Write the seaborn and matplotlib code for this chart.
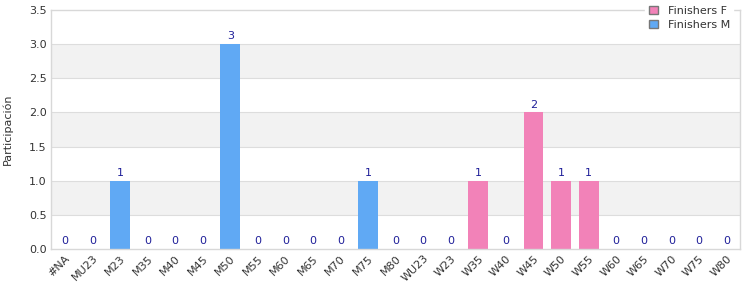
import matplotlib
matplotlib.use("Agg")
import matplotlib.pyplot as plt
import seaborn as sns
import pandas as pd
from matplotlib.patches import Patch

categories = ["#NA", "MU23", "M23", "M35", "M40", "M45", "M50", "M55", "M60", "M65",
              "M70", "M75", "M80", "WU23", "W23", "W35", "W40", "W45", "W50", "W55",
              "W60", "W65", "W70", "W75", "W80"]
finishers_f = [0, 0, 0, 0, 0, 0, 0, 0, 0, 0, 0, 0, 0, 0, 0, 1, 0, 2, 1, 1, 0, 0, 0, 0, 0]
finishers_m = [0, 0, 1, 0, 0, 0, 3, 0, 0, 0, 0, 1, 0, 0, 0, 0, 0, 0, 0, 0, 0, 0, 0, 0, 0]
y_ticks = [0.0, 0.5, 1.0, 1.5, 2.0, 2.5, 3.0, 3.5]

col_f = "#f282b8"
col_m = "#60a9f4"
lab_col = "#1f1f99"

sns.set_theme(style="white")
plt.rcParams["font.family"] = ["DejaVu Sans"]

rows = []
for c, f, m in zip(categories, finishers_f, finishers_m):
    rows.append({"cat": c, "serie": "Finishers F", "val": f})
    rows.append({"cat": c, "serie": "Finishers M", "val": m})
df = pd.DataFrame(rows)

fig = plt.figure(figsize=(7.5, 3.0), dpi=100)
ax = fig.add_axes([0.068, 0.17, 0.919, 0.797])

# alternating bands
for i in range(len(y_ticks) - 1):
    if i % 2 == 1:
        ax.axhspan(y_ticks[i], y_ticks[i + 1], color="#f2f2f2", zorder=0, lw=0)

sns.barplot(data=df, x="cat", y="val", hue="serie", dodge=False,
            palette={"Finishers F": col_f, "Finishers M": col_m}, saturation=1,
            width=0.72, ax=ax, legend=False, zorder=2, linewidth=0)

for i, (f, m) in enumerate(zip(finishers_f, finishers_m)):
    tot = f + m
    ax.text(i, tot + 0.04, f"{tot}", ha="center", va="bottom", fontsize=8, color=lab_col, zorder=3)

ax.set_ylim(0, 3.5)
ax.set_xlim(-0.5, len(categories) - 0.5)
ax.set_yticks(y_ticks)
ax.set_yticklabels([f"{v:.1f}" for v in y_ticks])
for v in y_ticks[1:-1]:
    ax.axhline(v, color="#dddddd", lw=0.8, zorder=1)
ax.tick_params(axis="both", labelsize=8, colors="#333333", length=0, pad=3)
ax.set_xticks(range(len(categories)))
ax.set_xticklabels(categories, rotation=45, ha="right", rotation_mode="anchor")
ax.set_xlabel("")
ax.set_ylabel("Participación", fontsize=8, color="#333333", labelpad=12)
for s in ax.spines.values():
    s.set_color("#d8d8d8")
    s.set_linewidth(1)

handles = [Patch(facecolor=col_f, edgecolor="#777777", label="Finishers F"),
           Patch(facecolor=col_m, edgecolor="#777777", label="Finishers M")]
leg = fig.legend(handles=handles, loc="upper right", bbox_to_anchor=(0.985, 1.01),
                 fontsize=8, frameon=True, handlelength=0.8, handleheight=0.8,
                 handletextpad=0.9, labelspacing=0.35, borderpad=0.3)
leg.get_frame().set_facecolor("white")
leg.get_frame().set_edgecolor("white")
leg.get_frame().set_alpha(1)
for t in leg.get_texts():
    t.set_color("#333333")

fig.savefig("out.png", dpi=100)
